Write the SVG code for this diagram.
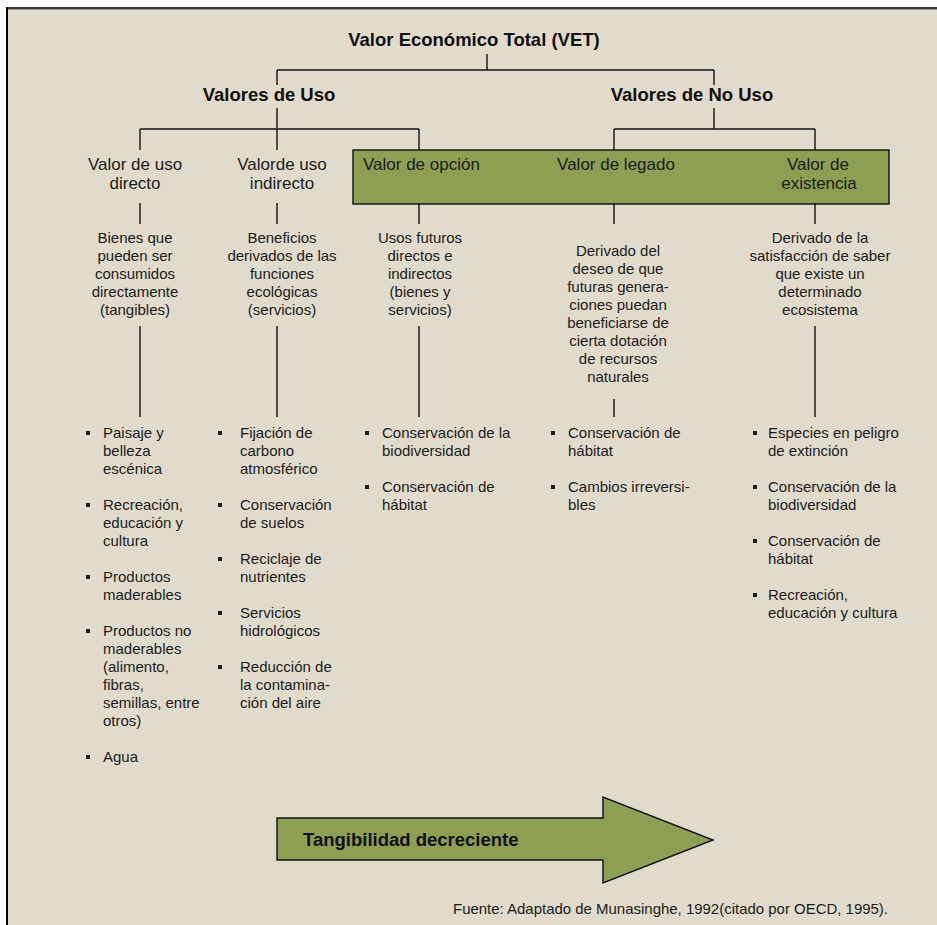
<svg xmlns="http://www.w3.org/2000/svg" width="937" height="925" viewBox="0 0 937 925">
<style>
text{font-family:"Liberation Sans",Arial,sans-serif;fill:#1c1c1c}
.b{font-weight:bold;font-size:18.5px;fill:#111}
.h{font-size:17px;text-anchor:middle}
.d{font-size:15px;text-anchor:middle}
.l{font-size:15px}
.c line{stroke:#111;stroke-width:1.4}
.box{fill:#8D9F53;stroke:#111;stroke-width:1.4}
.bul{fill:#1c1c1c}
</style>
<rect x="0" y="0" width="937" height="925" fill="#fff"/>
<rect x="7" y="8" width="930" height="917" fill="#E0DBCB"/>
<line x1="7" y1="7" x2="7" y2="925" stroke="#000" stroke-width="2"/>
<line x1="6" y1="8" x2="937" y2="8" stroke="#000" stroke-width="1.6"/>
<line x1="8" y1="9.5" x2="937" y2="9.5" stroke="#9a978c" stroke-width="1"/>

<g id="box-nouso-band"><rect class="box" x="353" y="150" width="536" height="54"/></g>

<g id="connectors" class="c">
<line x1="487" y1="54" x2="487" y2="70"/>
<line x1="277" y1="70" x2="714" y2="70"/>
<line x1="277" y1="70" x2="277" y2="85"/>
<line x1="714" y1="70" x2="714" y2="85"/>
<line x1="277" y1="108" x2="277" y2="150"/>
<line x1="140" y1="129" x2="419" y2="129"/>
<line x1="140" y1="129" x2="140" y2="150"/>
<line x1="419" y1="129" x2="419" y2="150"/>
<line x1="714" y1="108" x2="714" y2="129"/>
<line x1="614" y1="129" x2="815" y2="129"/>
<line x1="614" y1="129" x2="614" y2="150"/>
<line x1="815" y1="129" x2="815" y2="150"/>
<line x1="140" y1="203" x2="140" y2="224"/>
<line x1="277" y1="203" x2="277" y2="224"/>
<line x1="419" y1="203" x2="419" y2="224"/>
<line x1="614" y1="203" x2="614" y2="224"/>
<line x1="815" y1="203" x2="815" y2="224"/>
<line x1="140" y1="326" x2="140" y2="417"/>
<line x1="277" y1="326" x2="277" y2="417"/>
<line x1="419" y1="326" x2="419" y2="417"/>
<line x1="614" y1="399" x2="614" y2="417"/>
<line x1="815" y1="326" x2="815" y2="417"/>
</g>

<g id="vet"><text class="b" x="474" y="46" text-anchor="middle">Valor Económico Total (VET)</text></g>
<g id="uso"><text class="b" x="269" y="101" text-anchor="middle">Valores de Uso</text></g>
<g id="nouso"><text class="b" x="692" y="101" text-anchor="middle">Valores de No Uso</text></g>

<g id="directo">
<text class="h" x="135" y="170">Valor de uso</text>
<text class="h" x="135" y="189">directo</text>
<text class="d" x="135" y="243">Bienes que</text>
<text class="d" x="135" y="261">pueden ser</text>
<text class="d" x="135" y="279">consumidos</text>
<text class="d" x="135" y="297">directamente</text>
<text class="d" x="135" y="315">(tangibles)</text>
<rect class="bul" x="86" y="431" width="4" height="4"/>
<rect class="bul" x="86" y="503" width="4" height="4"/>
<rect class="bul" x="86" y="575" width="4" height="4"/>
<rect class="bul" x="86" y="629" width="4" height="4"/>
<rect class="bul" x="86" y="755" width="4" height="4"/>
<text class="l" x="103" y="438">Paisaje y</text>
<text class="l" x="103" y="456">belleza</text>
<text class="l" x="103" y="474">escénica</text>
<text class="l" x="103" y="510">Recreación,</text>
<text class="l" x="103" y="528">educación y</text>
<text class="l" x="103" y="546">cultura</text>
<text class="l" x="103" y="582">Productos</text>
<text class="l" x="103" y="600">maderables</text>
<text class="l" x="103" y="636">Productos no</text>
<text class="l" x="103" y="654">maderables</text>
<text class="l" x="103" y="672">(alimento,</text>
<text class="l" x="103" y="690">fibras,</text>
<text class="l" x="103" y="708">semillas, entre</text>
<text class="l" x="103" y="726">otros)</text>
<text class="l" x="103" y="762">Agua</text>
</g>

<g id="indirecto">
<text class="h" x="282" y="170">Valorde uso</text>
<text class="h" x="282" y="189">indirecto</text>
<text class="d" x="282" y="243">Beneficios</text>
<text class="d" x="282" y="261">derivados de las</text>
<text class="d" x="282" y="279">funciones</text>
<text class="d" x="282" y="297">ecológicas</text>
<text class="d" x="282" y="315">(servicios)</text>
<rect class="bul" x="218" y="431" width="4" height="4"/>
<rect class="bul" x="218" y="503" width="4" height="4"/>
<rect class="bul" x="218" y="557" width="4" height="4"/>
<rect class="bul" x="218" y="611" width="4" height="4"/>
<rect class="bul" x="218" y="665" width="4" height="4"/>
<text class="l" x="240" y="438">Fijación de</text>
<text class="l" x="240" y="456">carbono</text>
<text class="l" x="240" y="474">atmosférico</text>
<text class="l" x="240" y="510">Conservación</text>
<text class="l" x="240" y="528">de suelos</text>
<text class="l" x="240" y="564">Reciclaje de</text>
<text class="l" x="240" y="582">nutrientes</text>
<text class="l" x="240" y="618">Servicios</text>
<text class="l" x="240" y="636">hidrológicos</text>
<text class="l" x="240" y="672">Reducción de</text>
<text class="l" x="240" y="690">la contamina-</text>
<text class="l" x="240" y="708">ción del aire</text>
</g>

<g id="opcion">
<text class="h" x="363" y="170" text-anchor="start" style="text-anchor:start">Valor de opción</text>
<text class="d" x="420" y="243">Usos futuros</text>
<text class="d" x="420" y="261">directos e</text>
<text class="d" x="420" y="279">indirectos</text>
<text class="d" x="420" y="297">(bienes y</text>
<text class="d" x="420" y="315">servicios)</text>
<rect class="bul" x="365" y="431" width="4" height="4"/>
<rect class="bul" x="365" y="485" width="4" height="4"/>
<text class="l" x="382" y="438">Conservación de la</text>
<text class="l" x="382" y="456">biodiversidad</text>
<text class="l" x="382" y="492">Conservación de</text>
<text class="l" x="382" y="510">hábitat</text>
</g>

<g id="legado">
<text class="h" x="616" y="170">Valor de legado</text>
<text class="d" x="618" y="256">Derivado del</text>
<text class="d" x="618" y="274">deseo de que</text>
<text class="d" x="618" y="292">futuras genera-</text>
<text class="d" x="618" y="310">ciones puedan</text>
<text class="d" x="618" y="328">beneficiarse de</text>
<text class="d" x="618" y="346">cierta dotación</text>
<text class="d" x="618" y="364">de recursos</text>
<text class="d" x="618" y="382">naturales</text>
<rect class="bul" x="551" y="431" width="4" height="4"/>
<rect class="bul" x="551" y="485" width="4" height="4"/>
<text class="l" x="568" y="438">Conservación de</text>
<text class="l" x="568" y="456">hábitat</text>
<text class="l" x="568" y="492">Cambios irreversi-</text>
<text class="l" x="568" y="510">bles</text>
</g>

<g id="existencia">
<text class="h" x="818" y="170">Valor de</text>
<text class="h" x="819" y="189">existencia</text>
<text class="d" x="820" y="243">Derivado de la</text>
<text class="d" x="820" y="261">satisfacción de saber</text>
<text class="d" x="820" y="279">que existe un</text>
<text class="d" x="820" y="297">determinado</text>
<text class="d" x="820" y="315">ecosistema</text>
<rect class="bul" x="753" y="431" width="4" height="4"/>
<rect class="bul" x="753" y="485" width="4" height="4"/>
<rect class="bul" x="753" y="539" width="4" height="4"/>
<rect class="bul" x="753" y="593" width="4" height="4"/>
<text class="l" x="768" y="438">Especies en peligro</text>
<text class="l" x="768" y="456">de extinción</text>
<text class="l" x="768" y="492">Conservación de la</text>
<text class="l" x="768" y="510">biodiversidad</text>
<text class="l" x="768" y="546">Conservación de</text>
<text class="l" x="768" y="564">hábitat</text>
<text class="l" x="768" y="600">Recreación,</text>
<text class="l" x="768" y="618">educación y cultura</text>
</g>

<g id="arrow">
<polygon class="box" points="277,818 603,818 603,797 713,840 603,883 603,860 277,860"/>
<text class="b" x="303" y="846">Tangibilidad decreciente</text>
</g>

<g id="source"><text x="453" y="914" font-size="14.5" textLength="435" lengthAdjust="spacingAndGlyphs">Fuente: Adaptado de Munasinghe, 1992(citado por OECD, 1995).</text></g>
</svg>
